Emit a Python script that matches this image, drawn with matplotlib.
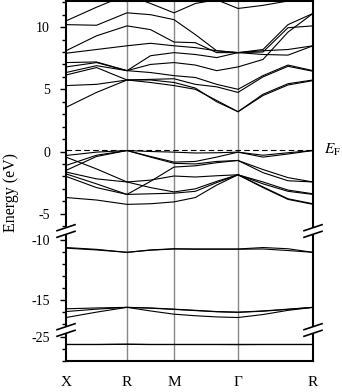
import numpy as np
import matplotlib.pyplot as plt
from matplotlib.lines import Line2D
from matplotlib.patches import Polygon
from matplotlib.ticker import MultipleLocator

plt.rcParams['font.family'] = 'Liberation Serif'
plt.rcParams['mathtext.fontset'] = 'stix'
plt.rcParams['axes.unicode_minus'] = False

# high-symmetry path (path length)
kpath = [0, 61, 108, 172, 247]
klabels = ['X', 'R', 'M', 'Γ', 'R']
nsub = [2, 2, 3, 3]   # sampled nodes per segment
k = [kpath[0]]
for i, n in enumerate(nsub):
    k += list(np.linspace(kpath[i], kpath[i + 1], n + 1)[1:])

# energies at nodes: X, XR, R, RM, M, MG1, MG2, G, GR1, GR2, R
cond = [
    [3.55, 4.75, 5.75, 5.55, 5.3, 5.0, 4.1, 3.2, 4.5, 5.35, 5.7],
    [5.3, 5.4, 5.75, 5.75, 5.55, 5.1, 4.0, 3.2, 4.6, 5.45, 5.75],
    [6.15, 6.75, 5.75, 5.8, 5.85, 5.4, 5.2, 4.75, 6.0, 6.85, 6.45],
    [6.35, 6.9, 6.5, 6.35, 6.1, 5.95, 5.4, 5.0, 6.1, 6.95, 6.5],
    [6.8, 7.15, 6.5, 7.0, 7.15, 6.95, 6.5, 6.8, 7.4, 9.6, 11.1],
    [7.15, 7.2, 6.5, 7.7, 7.95, 7.8, 7.55, 7.95, 8.1, 8.2, 8.5],
    [7.9, 8.2, 8.5, 8.7, 8.5, 8.35, 8.1, 7.95, 7.8, 7.75, 8.5],
    [8.1, 9.3, 10.1, 9.8, 8.8, 8.75, 7.95, 7.95, 8.0, 9.95, 10.1],
    [10.2, 10.15, 11.15, 11.0, 10.6, 9.4, 8.1, 7.95, 8.2, 10.2, 11.1],
    [10.5, 11.6, 12.6, 11.9, 11.15, 11.9, 12.2, 11.5, 11.75, 12.1, 12.5],
]
val = [
    [-0.32, -0.05, 0.08, 0.0, -0.05, -0.12, -0.1, -0.05, -0.45, -0.2, 0.08],
    [-1.12, -0.3, 0.08, -0.4, -0.85, -0.8, -0.45, -0.05, -0.3, -0.1, 0.08],
    [-1.52, -0.4, 0.08, -0.45, -0.95, -1.0, -0.8, -0.72, -1.45, -2.1, -2.45],
    [-1.8, -2.6, -3.45, -2.4, -1.25, -1.15, -0.9, -0.72, -1.7, -2.35, -2.45],
    [-0.45, -1.4, -2.45, -2.3, -1.97, -2.05, -1.95, -1.87, -2.45, -3.1, -3.4],
    [-1.65, -2.2, -2.45, -2.9, -3.25, -3.0, -2.4, -1.87, -2.6, -3.2, -3.45],
    [-2.0, -2.9, -3.45, -3.4, -3.35, -3.2, -2.5, -1.87, -2.85, -3.8, -4.2],
    [-3.7, -3.9, -4.25, -4.2, -4.05, -3.7, -2.7, -1.87, -2.9, -3.85, -4.25],
]
semi = [
    [-10.6, -10.75, -11.0, -10.8, -10.7, -10.72, -10.72, -10.72, -10.6, -10.7, -11.0],
    [-10.65, -10.8, -11.0, -10.82, -10.72, -10.74, -10.74, -10.74, -10.72, -10.85, -11.0],
    [-15.72, -15.65, -15.6, -15.65, -15.75, -15.85, -15.95, -16.0, -15.9, -15.75, -15.6],
    [-15.95, -15.75, -15.6, -15.9, -16.17, -16.3, -16.4, -16.45, -16.2, -15.85, -15.6],
    [-16.45, -16.0, -15.6, -15.67, -15.77, -15.87, -15.97, -16.02, -15.92, -15.77, -15.6],
]
core = [
    [-25.6, -25.6, -25.58, -25.6, -25.6, -25.6, -25.6, -25.6, -25.6, -25.6, -25.6],
    [-25.62, -25.62, -25.6, -25.62, -25.62, -25.62, -25.62, -25.63, -25.62, -25.62, -25.62],
]
e_fermi = 0.1

W, H = 342, 392
fig = plt.figure(figsize=(W / 100, H / 100), dpi=100)
gs = fig.add_gridspec(3, 1, height_ratios=[232, 98, 31], hspace=0,
                      left=66 / W, right=313 / W, top=1 - 1 / H, bottom=1 - 361 / H)
axes = [fig.add_subplot(gs[i]) for i in range(3)]
ylims = [(-6.5, 12.1), (-17.5, -9.33), (-27.0, -24.4)]

for i, ax in enumerate(axes):
    for b in cond + val + semi + core:
        ax.plot(k, b, color='black', lw=0.8)
    for kp in kpath[1:-1]:
        ax.axvline(kp, color='#888888', lw=1.0, zorder=0)
    ax.set_xlim(kpath[0], kpath[-1])
    ax.set_ylim(*ylims[i])
    ax.yaxis.set_major_locator(MultipleLocator(5))
    ax.yaxis.set_minor_locator(MultipleLocator(1))
    ax.tick_params(axis='y', which='major', length=4.5, width=1, pad=7, labelsize=10)
    ax.tick_params(axis='y', which='minor', length=3, width=1)
    for s in ax.spines.values():
        s.set_linewidth(1.5)
    if i > 0:
        ax.spines['top'].set_visible(False)
    if i < 2:
        ax.spines['bottom'].set_visible(False)
        ax.set_xticks([])

axes[0].axhline(e_fermi, color='black', lw=0.8, ls=(0, (5, 3)))
axes[0].text(1.045, e_fermi, r'$E_{\rm F}$', transform=axes[0].get_yaxis_transform(),
             fontsize=11, va='center', ha='left')
axes[2].set_xticks(kpath, klabels)
axes[2].tick_params(axis='x', length=0, pad=11, labelsize=11)

fig.text(11 / W, 1 - 193 / H, 'Energy (eV)', rotation=90, va='center', ha='center', fontsize=11.5)

# axis break marks
for xb in (66, 313):
    for yb in (231, 330):
        gap = Polygon([((xb - 3) / W, 1 - (yb + 4) / H), ((xb + 3) / W, 1 - (yb + 2) / H),
                       ((xb + 3) / W, 1 - (yb - 4) / H), ((xb - 3) / W, 1 - (yb - 2) / H)],
                      closed=True, transform=fig.transFigure, color='white', zorder=5)
        fig.add_artist(gap)
        for dy in (-3.3, 3.3):
            fig.add_artist(Line2D([(xb - 9) / W, (xb + 9) / W],
                                  [1 - (yb + dy + 3) / H, 1 - (yb + dy - 3) / H],
                                  transform=fig.transFigure, color='black', lw=1.2, zorder=6))

fig.savefig('out.png', dpi=100)
